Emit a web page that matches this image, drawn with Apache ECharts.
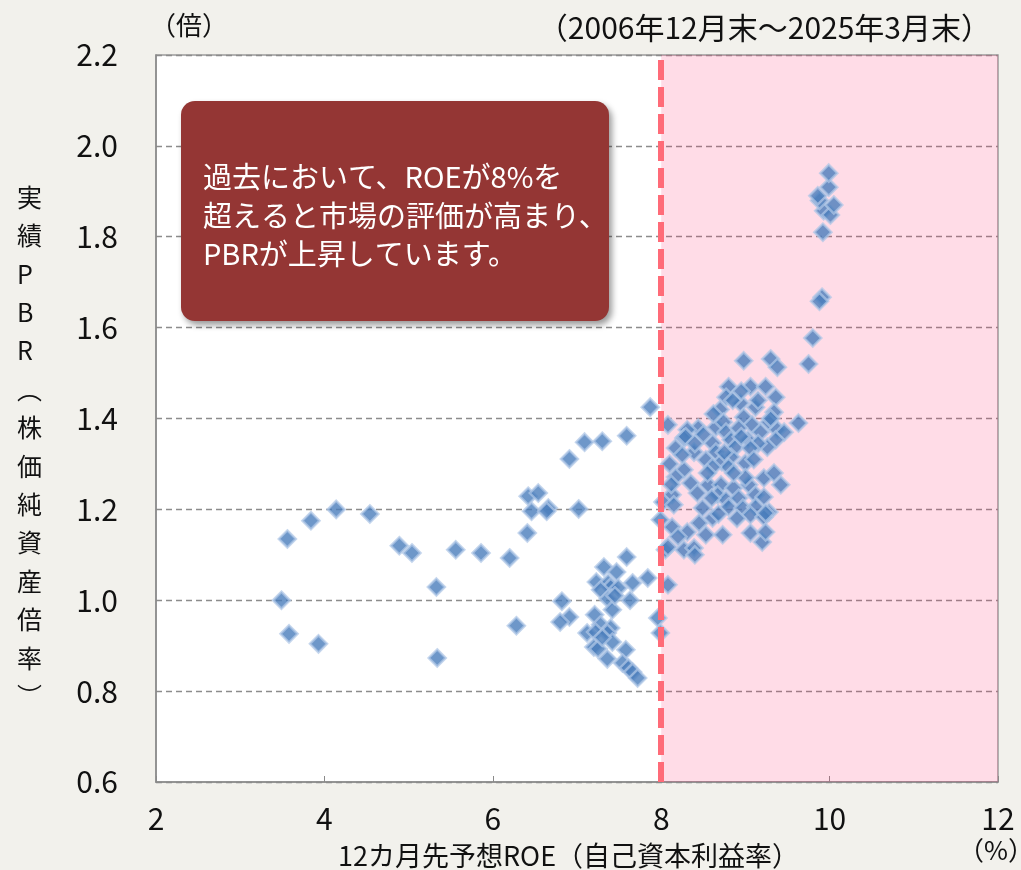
<!DOCTYPE html>
<html>
<head>
<meta charset="utf-8">
<script src="https://cdn.jsdelivr.net/npm/echarts@6/dist/echarts.min.js"></script>
<style>
html,body{margin:0;padding:0;background:#f2f1ec;}
#chart{width:1021px;height:870px;}
</style>
</head>
<body>
<div id="chart"></div>
<script>
// 12-month forward ROE (%) and actual PBR (x), monthly, Dec 2006 - Mar 2025
const roe = [
  3.49,3.56,3.58,3.84,3.93,4.14,4.54,4.89,5.04,5.33,5.34,5.56,5.86,6.20,6.28,6.41,6.42,6.54,6.46,6.66,
  6.64,6.91,7.02,7.09,7.30,7.59,7.87,7.59,7.32,7.47,7.23,7.37,7.40,7.28,7.49,7.66,7.84,7.37,7.63,7.42,
  6.82,6.91,6.80,7.21,7.28,7.12,7.22,7.40,7.36,7.42,7.20,7.25,7.36,7.58,7.54,7.61,7.66,7.72,7.96,7.99,
  7.30,7.45,
  8.08,8.44,8.31,8.65,8.80,9.06,9.24,9.36,8.77,8.94,9.12,8.85,8.70,9.34,8.98,9.28,9.08,9.63,8.74,8.77,
  8.92,9.18,9.38,9.46,8.27,8.83,9.03,9.36,9.26,9.15,8.61,8.17,8.39,8.65,8.88,9.06,8.83,9.00,8.53,8.72,
  8.80,8.27,8.61,8.17,9.22,9.34,8.35,8.56,8.71,8.86,9.04,9.42,8.43,8.67,8.77,8.92,9.12,9.22,8.13,8.02,
  8.15,8.49,8.80,8.97,9.12,9.28,8.61,8.68,9.06,9.22,7.99,8.13,8.31,8.53,8.73,9.06,9.20,8.05,8.27,8.39,
  8.08,8.08,8.98,9.30,9.38,9.75,9.80,9.91,9.88,9.92,9.93,10.01,10.05,9.88,9.86,9.99,9.99,9.24,9.24,8.10,
  8.12,8.25,8.29,8.40,8.55,8.95,9.10,9.30,8.45,8.60,9.00,8.90,8.50,8.40,8.20,9.15,8.95,8.62,8.75,8.86
];
const pbr = [
  1.000,1.135,0.926,1.175,0.904,1.200,1.190,1.120,1.104,1.029,0.873,1.111,1.104,1.093,0.944,1.148,1.229,1.236,1.196,1.203,
  1.196,1.311,1.201,1.348,1.350,1.362,1.425,1.095,1.073,1.062,1.040,1.038,1.029,1.023,1.027,1.038,1.049,1.003,1.000,0.979,
  0.998,0.963,0.952,0.968,0.946,0.928,0.930,0.939,0.928,0.908,0.897,0.893,0.871,0.891,0.862,0.851,0.842,0.829,0.961,0.928,
  0.918,1.010,
  1.386,1.379,1.375,1.381,1.470,1.470,1.470,1.447,1.447,1.434,1.425,1.440,1.420,1.414,1.403,1.392,1.386,1.390,1.392,1.370,
  1.379,1.370,1.375,1.370,1.357,1.353,1.353,1.353,1.337,1.345,1.346,1.335,1.326,1.326,1.337,1.335,1.315,1.302,1.309,1.305,
  1.293,1.287,1.293,1.271,1.269,1.280,1.258,1.254,1.254,1.247,1.254,1.254,1.236,1.232,1.221,1.225,1.232,1.227,1.232,1.216,
  1.210,1.203,1.205,1.203,1.205,1.194,1.181,1.190,1.188,1.183,1.177,1.161,1.150,1.144,1.144,1.148,1.128,1.111,1.111,1.115,
  1.117,1.034,1.527,1.531,1.513,1.520,1.577,1.667,1.658,1.810,1.857,1.848,1.870,1.880,1.890,1.909,1.940,1.192,1.150,1.300,
  1.255,1.320,1.360,1.345,1.280,1.460,1.310,1.400,1.170,1.225,1.270,1.180,1.365,1.100,1.140,1.440,1.360,1.410,1.325,1.280
];
const xTicks = [2, 4, 6, 8, 10, 12];
const yTicks = [0.6, 0.8, 1.0, 1.2, 1.4, 1.6, 1.8, 2.0, 2.2];
const roeThreshold = 8;
const yTitleChars = ['実','績','P','B','R','︵','株','価','純','資','産','倍','率','︶'];
const noteLines = ['過去において、ROEが8%を', '超えると市場の評価が高まり、', 'PBRが上昇しています。'];

const points = roe.map((r, i) => [r, pbr[i]]);
const FONT = '"Noto Sans CJK JP","Noto Sans",sans-serif';

const chart = echarts.init(document.getElementById('chart'));
const option = {
  backgroundColor: '#f2f1ec',
  animation: false,
  textStyle: { fontFamily: FONT },
  grid: {
    left: 156, right: 23, top: 55, bottom: 88,
    show: true, backgroundColor: '#ffffff', borderColor: '#9a9a9a', borderWidth: 1.5
  },
  xAxis: {
    type: 'value',
    min: xTicks[0], max: xTicks[xTicks.length - 1], interval: 2,
    axisLine: { show: true, lineStyle: { color: '#8a8a8a', width: 1.5 } },
    axisTick: { show: true, inside: true, length: 6, lineStyle: { color: '#8a8a8a' } },
    splitLine: { show: false },
    axisLabel: { fontSize: 30, color: '#111', margin: 22, fontFamily: FONT }
  },
  yAxis: {
    type: 'value',
    min: yTicks[0], max: yTicks[yTicks.length - 1], interval: 0.2,
    axisLine: { show: true, lineStyle: { color: '#8a8a8a', width: 1.5 } },
    axisTick: { show: false },
    splitLine: { show: true, lineStyle: { color: '#8c8c8c', width: 1.3, type: [6, 4] } },
    axisLabel: {
      fontSize: 30, color: '#111', margin: 38, fontFamily: FONT,
      formatter: v => v.toFixed(1)
    }
  },
  series: [
    {
      type: 'scatter',
      data: points,
      symbol: 'diamond',
      symbolSize: 17,
      z: 2,
      itemStyle: { color: '#4a7dbb', borderColor: 'rgba(175,198,230,0.9)', borderWidth: 2.5 }
    },
    {
      type: 'scatter',
      data: [],
      z: 5,
      silent: true,
      markArea: {
        silent: true,
        itemStyle: { color: 'rgba(255,50,110,0.17)' },
        data: [[{ xAxis: roeThreshold }, { xAxis: xTicks[xTicks.length - 1] }]]
      },
      markLine: {
        silent: true,
        symbol: 'none',
        label: { show: false },
        lineStyle: { color: '#ff6b78', width: 6, type: [20, 7] },
        data: [{ xAxis: roeThreshold }]
      }
    }
  ],
  graphic: [
    {
      type: 'rect',
      shape: { x: 181, y: 101, width: 428, height: 220, r: 14 },
      style: {
        fill: '#943634',
        shadowBlur: 6, shadowOffsetX: 3, shadowOffsetY: 4, shadowColor: 'rgba(0,0,0,0.4)'
      },
      z: 20
    },
    {
      type: 'text', left: 203, top: 158, z: 21,
      style: {
        text: noteLines.join('\n'),
        fill: '#ffffff', font: '29px ' + FONT, lineHeight: 38.5
      }
    },
    {
      type: 'text', left: 150, top: 12, z: 21,
      style: { text: '（倍）', fill: '#111', font: '26px ' + FONT }
    },
    {
      type: 'text', right: 30, top: 13, z: 21,
      style: { text: '（2006年12月末～2025年3月末）', fill: '#111', font: '30px ' + FONT }
    },
    {
      type: 'text', left: 17, top: 178, z: 21,
      style: {
        text: yTitleChars.join('\n'),
        fill: '#111', font: '25px ' + FONT, lineHeight: 38.4, align: 'center'
      }
    },
    {
      type: 'text', left: 338, top: 842, z: 21,
      style: { text: '12カ月先予想ROE（自己資本利益率）', fill: '#111', font: '27px ' + FONT }
    },
    {
      type: 'text', left: 958, top: 837, z: 21,
      style: { text: '（%）', fill: '#111', font: '26px ' + FONT }
    }
  ]
};
chart.setOption(option);
</script>
</body>
</html>
